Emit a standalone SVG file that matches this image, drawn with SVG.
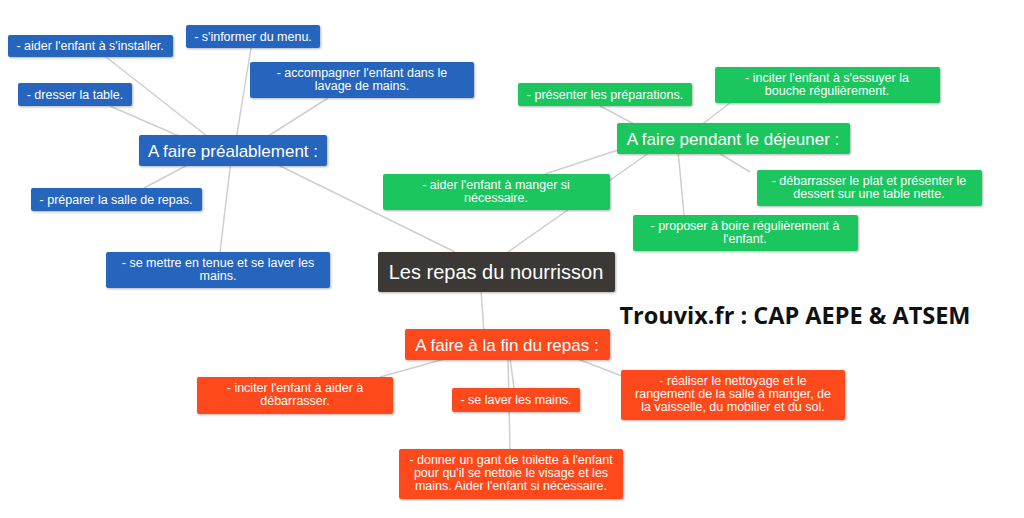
<svg xmlns="http://www.w3.org/2000/svg" width="1024" height="518" viewBox="0 0 1024 518">
<style>
.b{fill:#2565bd}.g{fill:#1bc65e}.o{fill:#fe4a1f}.c{fill:#3b3735}
rect{filter:url(#sh)}
text{font-family:"Liberation Sans",Arial,sans-serif;fill:#fff;text-anchor:middle}
.t{font-size:12.5px}.h{font-size:17px}.m{font-size:20px}
#edges line{stroke:#cfcfcf;stroke-width:1.5}
</style>
<defs><filter id="sh" x="-10%" y="-20%" width="120%" height="150%"><feDropShadow dx="1" dy="1" stdDeviation="1" flood-color="#000" flood-opacity="0.3"/></filter></defs>
<rect width="1024" height="518" fill="#fff" style="filter:none"/>
<g id="edges">
<line x1="212" y1="140" x2="106" y2="57"/><line x1="188" y1="140" x2="110" y2="106"/>
<line x1="236" y1="140" x2="251" y2="48"/><line x1="262" y1="140" x2="328" y2="98"/>
<line x1="197" y1="160" x2="144" y2="188"/><line x1="231" y1="160" x2="220" y2="252"/>
<line x1="268" y1="160" x2="455" y2="252"/><line x1="508" y1="252" x2="653" y2="150"/>
<line x1="481" y1="290" x2="484" y2="332"/>
<line x1="638" y1="126" x2="600" y2="106"/><line x1="700" y1="126" x2="730" y2="103"/>
<line x1="618" y1="150" x2="545" y2="174"/><line x1="714" y1="150" x2="750" y2="172"/>
<line x1="678" y1="150" x2="684" y2="215"/>
<line x1="448" y1="358" x2="380" y2="377"/><line x1="510" y1="358" x2="514" y2="388"/>
<line x1="508" y1="358" x2="510" y2="449"/><line x1="575" y1="358" x2="622" y2="376"/>
</g>
<g id="n1"><rect class="b" x="8" y="35" width="165" height="22" rx="2"/><text class="t" x="90" y="50">- aider l'enfant à s'installer.</text></g>
<g id="n2"><rect class="b" x="186" y="25" width="134" height="23" rx="2"/><text class="t" x="253" y="41">- s'informer du menu.</text></g>
<g id="n3"><rect class="b" x="250" y="62" width="224" height="36" rx="2"/><text class="t" x="362" y="77">- accompagner l'enfant dans le</text><text class="t" x="362" y="90">lavage de mains.</text></g>
<g id="n4"><rect class="b" x="18" y="83" width="114" height="23" rx="2"/><text class="t" x="75" y="99">- dresser la table.</text></g>
<g id="n5"><rect class="b" x="139" y="135" width="188" height="31" rx="2"/><text class="h" x="233" y="157">A faire préalablement :</text></g>
<g id="n6"><rect class="b" x="31" y="188" width="171" height="23" rx="2"/><text class="t" x="116" y="204">- préparer la salle de repas.</text></g>
<g id="n7"><rect class="b" x="106" y="252" width="224" height="36" rx="2"/><text class="t" x="218" y="267">- se mettre en tenue et se laver les</text><text class="t" x="218" y="280">mains.</text></g>
<g id="root"><rect class="c" x="378" y="252" width="237" height="40" rx="2"/><text class="m" x="496" y="279">Les repas du nourrisson</text></g>
<g id="g1"><rect class="g" x="518" y="83" width="174" height="23" rx="2"/><text class="t" x="605" y="99">- présenter les préparations.</text></g>
<g id="g2"><rect class="g" x="715" y="67" width="225" height="36" rx="2"/><text class="t" x="827" y="82">- inciter l'enfant à s'essuyer la</text><text class="t" x="827" y="95">bouche régulièrement.</text></g>
<g id="g0"><rect class="g" x="617" y="123" width="233" height="31" rx="2"/><text class="h" x="733" y="145">A faire pendant le déjeuner :</text></g>
<g id="g3"><rect class="g" x="383" y="174" width="227" height="36" rx="2"/><text class="t" x="496" y="189">- aider l'enfant à manger si</text><text class="t" x="496" y="202">nécessaire.</text></g>
<g id="g4"><rect class="g" x="757" y="170" width="225" height="36" rx="2"/><text class="t" x="869" y="185">- débarrasser le plat et présenter le</text><text class="t" x="869" y="198">dessert sur une table nette.</text></g>
<g id="g5"><rect class="g" x="633" y="215" width="225" height="36" rx="2"/><text class="t" x="745" y="230">- proposer à boire régulièrement à</text><text class="t" x="745" y="243">l'enfant.</text></g>
<g id="o0"><rect class="o" x="405" y="329" width="205" height="31" rx="2"/><text class="h" x="507" y="351">A faire à la fin du repas :</text></g>
<g id="o1"><rect class="o" x="197" y="377" width="196" height="37" rx="2"/><text class="t" x="295" y="392">- inciter l'enfant à aider à</text><text class="t" x="295" y="405">débarrasser.</text></g>
<g id="o2"><rect class="o" x="452" y="388" width="128" height="24" rx="2"/><text class="t" x="516" y="404">- se laver les mains.</text></g>
<g id="o3"><rect class="o" x="621" y="370" width="224" height="50" rx="2"/><text class="t" x="733" y="385">- réaliser le nettoyage et le</text><text class="t" x="733" y="398">rangement de la salle à manger, de</text><text class="t" x="733" y="411">la vaisselle, du mobilier et du sol.</text></g>
<g id="o4"><rect class="o" x="399" y="449" width="224" height="50" rx="2"/><text class="t" x="511" y="464">- donner un gant de toilette à l'enfant</text><text class="t" x="511" y="477">pour qu'il se nettoie le visage et les</text><text class="t" x="511" y="490">mains. Aider l'enfant si nécessaire.</text></g>
<text x="795" y="324" style="fill:#111;font-family:'Open Sans',sans-serif;font-weight:bold;font-size:23.5px">Trouvix.fr : CAP AEPE &amp; ATSEM</text>
</svg>
